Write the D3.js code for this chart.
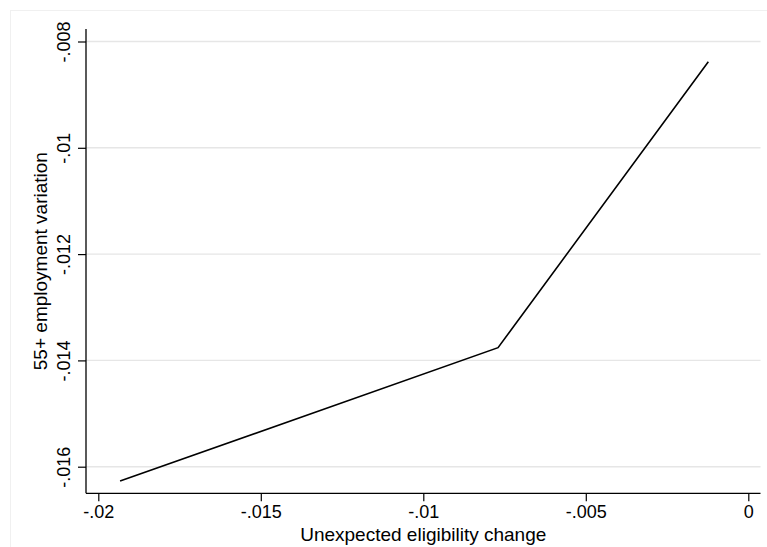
<!DOCTYPE html>
<html><head><meta charset="utf-8">
<script src="https://cdn.jsdelivr.net/npm/d3@7"></script>
<style>
body{margin:0;background:#fff;}
text{font-family:"Liberation Sans",Arial,Helvetica,sans-serif;fill:#000;}
</style></head>
<body>
<svg id="c" width="767" height="547"></svg>
<script>
const xValues = [-0.01933, -0.00770, -0.00123];
const yValues = [-0.01627, -0.01376, -0.00838];
const xTicks = [-0.02, -0.015, -0.01, -0.005, 0];
const xTickLabels = ["-.02", "-.015", "-.01", "-.005", "0"];
const yTicks = [-0.016, -0.014, -0.012, -0.01, -0.008];
const yTickLabels = ["-.016", "-.014", "-.012", "-.01", "-.008"];
const xTitle = "Unexpected eligibility change";
const yTitle = "55+ employment variation";

const svg = d3.select("#c");
const L = 86, R = 760.5, T = 29, B = 493.3;

// faint outer graph region frame
svg.append("rect").attr("x",10.5).attr("y",10.5).attr("width",800).attr("height",600)
  .attr("fill","none").attr("stroke","#f0f0f0").attr("stroke-width",1);

const x = d3.scaleLinear().domain([-0.02, 0]).range([98.3, 748.3]);
const y = d3.scaleLinear().domain([-0.016, -0.008]).range([466.7, 41.5]);

// gridlines
svg.append("g").selectAll("line").data(yTicks).join("line")
  .attr("x1", L).attr("x2", R)
  .attr("y1", d => y(d)).attr("y2", d => y(d))
  .attr("stroke", "#e6e6e6").attr("stroke-width", 1.4);

// y axis
const yAxis = d3.axisLeft(y).tickValues(yTicks).tickSize(8).tickPadding(0)
  .tickFormat((d,i) => yTickLabels[i]);
const gy = svg.append("g").attr("transform", `translate(${L},0)`).call(yAxis);
gy.select(".domain").attr("d", `M0,${T}V${B}`).attr("stroke","#000").attr("stroke-width",1.3);
gy.selectAll(".tick line").attr("stroke","#000").attr("stroke-width",1.2);
gy.selectAll(".tick text")
  .attr("x", 0).attr("dy", null).attr("y", 0)
  .attr("transform", "translate(-16,0) rotate(-90)")
  .attr("text-anchor", "middle")
  .style("font-size", "18px");

// x axis
const xAxis = d3.axisBottom(x).tickValues(xTicks).tickSize(8).tickPadding(0)
  .tickFormat((d,i) => xTickLabels[i]);
const gx = svg.append("g").attr("transform", `translate(0,${B})`).call(xAxis);
gx.select(".domain").attr("d", `M${L},0H${R}`).attr("stroke","#000").attr("stroke-width",1.3);
gx.selectAll(".tick line").attr("stroke","#000").attr("stroke-width",1.2);
gx.selectAll(".tick text").attr("y", 24.5).attr("dy", null)
  .style("font-size", "18px");

// line
const pts = xValues.map((v,i) => [v, yValues[i]]);
svg.append("path").datum(pts)
  .attr("d", d3.line().x(d => x(d[0])).y(d => y(d[1])))
  .attr("fill","none").attr("stroke","#000").attr("stroke-width",1.6);

// titles
svg.append("text").attr("x", (L+R)/2).attr("y", 540.5)
  .attr("text-anchor","middle").style("font-size","19px").text(xTitle);
svg.append("text").attr("transform", `translate(47,${(T+B)/2}) rotate(-90)`)
  .attr("text-anchor","middle").style("font-size","19px").text(yTitle);
</script>
</body></html>
